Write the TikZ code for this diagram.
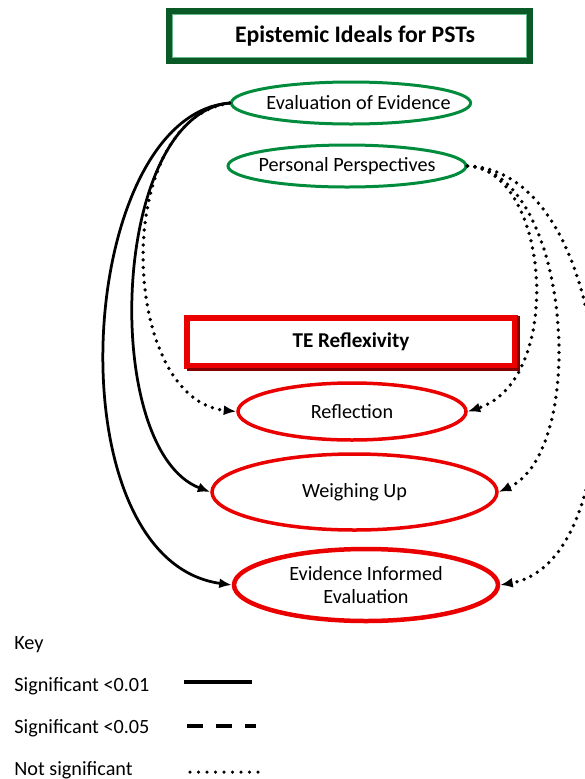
\documentclass[tikz,border=0pt]{standalone}
\usepackage{fontspec}
\setmainfont{Carlito}
\usepackage{xcolor}
\usepackage{tikz}
\usetikzlibrary{arrows.meta,shapes.geometric}
\definecolor{idealgreen}{RGB}{0,140,60}
\definecolor{boxgreen}{RGB}{10,90,40}
\definecolor{reflexred}{RGB}{235,0,0}
\definecolor{shadowred}{RGB}{130,0,0}

\begin{document}
\begin{tikzpicture}[>={Latex[length=0.25cm,width=0.2cm]},
  font=\fontsize{11.5}{13.5}\selectfont,
  idealnode/.style={ellipse,draw=idealgreen,line width=0.06cm,inner ysep=0pt,inner xsep=-0.3cm,minimum width=4.76cm,minimum height=0.84cm},
  reflexnode/.style={ellipse,draw=reflexred,line width=0.07cm,inner sep=0pt,align=center},
  sigline/.style={->,line width=0.055cm},
  nsline/.style={->,line width=0.075cm,line cap=round,dash pattern=on 0pt off 0.15cm},
  keytext/.style={anchor=west,inner sep=0pt}]
\useasboundingbox (0,0) rectangle (11.68,-15.58);
% headings
\draw[boxgreen,line width=0.11cm](3.38,-0.22) rectangle (10.6,-1.22);
\draw[idealgreen!60,line width=0.02cm](3.45,-0.29) rectangle (10.53,-1.15);
\node (ideals) at (7.1,-0.72) {\bfseries\fontsize{13.5}{15}\selectfont Epistemic Ideals for PSTs};
\draw[reflexred,line width=0.12cm](3.74,-6.36) rectangle (10.3,-7.32);
\draw[shadowred,line width=0.06cm](3.74,-7.38)--(10.36,-7.38)--(10.36,-6.32);
\node (reflex) at (7.02,-6.84) {\bfseries\fontsize{12}{14}\selectfont TE Reflexivity};
% ellipses
\node[idealnode] (evid) at (7.02,-2.06) {\hspace{0.3cm}Evaluation of Evidence};
\node[idealnode] (persp) at (6.94,-3.32) {Personal Perspectives};
\node[reflexnode,minimum width=4.56cm,minimum height=1.14cm] (refl) at (7.04,-8.23) {Reflection};
\node[reflexnode,minimum width=5.7cm,minimum height=1.52cm] (weigh) at (7.09,-9.84) {Weighing Up};
\node[reflexnode,line width=0.09cm,minimum width=5.28cm,minimum height=1.44cm] (eie) at (7.32,-11.7) {Evidence Informed\\Evaluation};
% links
\draw[sigline](evid.west) .. controls (1.5,-2.3) and (1.0,-11.2) .. (eie.west);
\draw[sigline](evid.west) .. controls (2.2,-2.3) and (2.0,-9.0) .. (weigh.west);
\draw[nsline](evid.west) .. controls (2.2,-2.4) and (2.4,-8.0) .. (refl.west);
\draw[nsline](persp.east) .. controls (11.0,-3.4) and (11.3,-7.6) .. (refl.east);
\draw[nsline](persp.east) .. controls (11.4,-3.4) and (11.8,-9.0) .. (weigh.east);
\draw[nsline](persp.east) .. controls (12.4,-3.4) and (12.8,-11.2) .. (eie.east);
% key
\node[keytext] (key) at (0.28,-12.9) {Key};
\node[keytext] (sig1) at (0.28,-13.72) {Significant <0.01};
\node[keytext] (sig5) at (0.28,-14.56) {Significant <0.05};
\node[keytext] (nsig) at (0.28,-15.4) {Not significant};
\coordinate (s1a) at (3.68,-13.64);
\coordinate (s1b) at (5.04,-13.64);
\coordinate (s5a) at (3.74,-14.52);
\coordinate (s5b) at (5.12,-14.52);
\coordinate (nsa) at (3.8,-15.44);
\coordinate (nsb) at (5.16,-15.44);
\draw[line width=0.08cm](s1a)--(s1b);
\draw[line width=0.08cm,dash pattern=on 0.32cm off 0.26cm](s5a)--(s5b);
\draw[line width=0.07cm,line cap=round,dash pattern=on 0pt off 0.17cm](nsa)--(nsb);
\end{tikzpicture}
\end{document}
